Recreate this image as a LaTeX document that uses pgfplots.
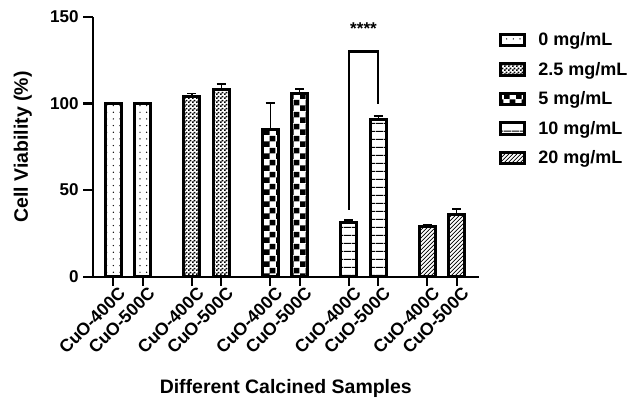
\documentclass[border=0pt]{standalone}
\usepackage{pgfplots}
\pgfplotsset{compat=1.18}
\usepackage{fontspec}
\setmainfont{Liberation Sans}
\usetikzlibrary{patterns}
\pgfdeclarepatternformonly{mydots}{\pgfqpoint{-1pt}{-1pt}}{\pgfqpoint{1pt}{1pt}}{\pgfqpoint{5pt}{5pt}}{\pgfpathcircle{\pgfqpoint{0pt}{0pt}}{0.55pt}\pgfusepath{fill}}
\pgfdeclarepatternformonly{finecheck}{\pgfqpoint{0pt}{0pt}}{\pgfqpoint{3pt}{3pt}}{\pgfqpoint{3pt}{3pt}}{\pgfpathrectangle{\pgfqpoint{0pt}{0pt}}{\pgfqpoint{1.5pt}{1.5pt}}\pgfpathrectangle{\pgfqpoint{1.5pt}{1.5pt}}{\pgfqpoint{1.5pt}{1.5pt}}\pgfusepath{fill}}
\pgfdeclarepatternformonly{bigcheck}{\pgfqpoint{0pt}{0pt}}{\pgfqpoint{9pt}{9pt}}{\pgfqpoint{9pt}{9pt}}{\pgfpathrectangle{\pgfqpoint{0pt}{0pt}}{\pgfqpoint{4.5pt}{4.5pt}}\pgfpathrectangle{\pgfqpoint{4.5pt}{4.5pt}}{\pgfqpoint{4.5pt}{4.5pt}}\pgfusepath{fill}}
\pgfdeclarepatternformonly{hlines}{\pgfqpoint{0pt}{0pt}}{\pgfqpoint{6pt}{6pt}}{\pgfqpoint{6pt}{6pt}}{\pgfsetlinewidth{0.8pt}\pgfpathmoveto{\pgfqpoint{-0.1pt}{3pt}}\pgfpathlineto{\pgfqpoint{6.1pt}{3pt}}\pgfusepath{stroke}}
\pgfdeclarepatternformonly{nelines}{\pgfqpoint{-1pt}{-1pt}}{\pgfqpoint{4pt}{4pt}}{\pgfqpoint{3pt}{3pt}}{\pgfsetlinewidth{0.5pt}\pgfpathmoveto{\pgfqpoint{0pt}{0pt}}\pgfpathlineto{\pgfqpoint{3.1pt}{3.1pt}}\pgfusepath{stroke}}
\newcommand{\labfont}{\bfseries\fontsize{14.6}{17}\selectfont}
\newcommand{\tickfont}{\bfseries\fontsize{12.8}{15}\selectfont}
\newcommand{\xtickfont}{\bfseries\fontsize{13.2}{15}\selectfont}
\newcommand{\legfont}{\bfseries\fontsize{13.5}{16}\selectfont}
\begin{document}
\begin{tikzpicture}
\begin{axis}[
  scale only axis,
  width=289.7pt, height=194.8pt,
  xmin=-0.70, xmax=12.42,
  ymin=0, ymax=150,
  axis lines=left,
  axis line style={line width=1.6pt, -},
  ytick={0,50,100,150},
  xtick={0,1,2.667,3.667,5.333,6.333,8,9,10.667,11.667},
  xticklabels={CuO-400C,CuO-500C,CuO-400C,CuO-500C,CuO-400C,CuO-500C,CuO-400C,CuO-500C,CuO-400C,CuO-500C},
  tick align=outside,
  major tick length=7pt,
  tick style={line width=1.6pt, black},
  /pgf/number format/assume math mode=true,
  ticklabel style={font=\tickfont},
  xticklabel style={font=\xtickfont, rotate=45, anchor=east, xshift=6pt, yshift=-7pt},
  xlabel={Different Calcined Samples},
  ylabel={Cell Viability (\%)},
  label style={font=\labfont},
  xlabel style={at={(axis description cs:0.5,-0.43)}, anchor=center},
  ylabel style={at={(axis description cs:-0.181,0.5)}, anchor=center},
  ybar, bar width=12.2pt, bar shift=0pt,
  every axis plot/.append style={draw=black, line width=2.3pt, pattern color=black},
  error bars/y dir=plus, error bars/y explicit,
  error bars/error bar style={line width=1.1pt, black},
  error bars/error mark options={rotate=90, mark size=3.5pt, line width=1.1pt, black},
  clip=false,
  legend style={draw=none, at={(1.040,0.962)}, anchor=north west, font=\legfont, row sep=6.9pt, fill=none,
    /tikz/every odd column/.style={column sep=7pt}},
  legend cell align=left,
  legend image code/.code={\draw[#1, line width=2.3pt] (0pt,-4.3pt) rectangle (18.5pt,4.3pt);},
]
\addplot[pattern=mydots] coordinates {(0,100) (1,100)};
\addplot[pattern=finecheck] coordinates {(2.667,104) +- (0,1.8) (3.667,108.3) +- (0,3)};
\addplot[pattern=bigcheck] coordinates {(5.333,85.2) +- (0,15.2) (6.333,105.6) +- (0,2.7)};
\addplot[pattern=hlines] coordinates {(8,31.4) +- (0,1.3) (9,91) +- (0,1.7)};
\addplot[pattern=nelines] coordinates {(10.667,28.8) +- (0,1.2) (11.667,36) +- (0,3.2)};
\legend{0 mg/mL, 2.5 mg/mL, 5 mg/mL, 10 mg/mL, 20 mg/mL}
\draw[line width=1.6pt] (axis cs:8,38.5) -- (axis cs:8,130) -- (axis cs:9,130) -- (axis cs:9,100);
\node[font=\tickfont] at (axis cs:8.5,143.5) {****};
\end{axis}
\pgfresetboundingbox
\path[use as bounding box] (-69.5pt,-91.7pt) rectangle (404.5pt,207.5pt);
\end{tikzpicture}
\end{document}
